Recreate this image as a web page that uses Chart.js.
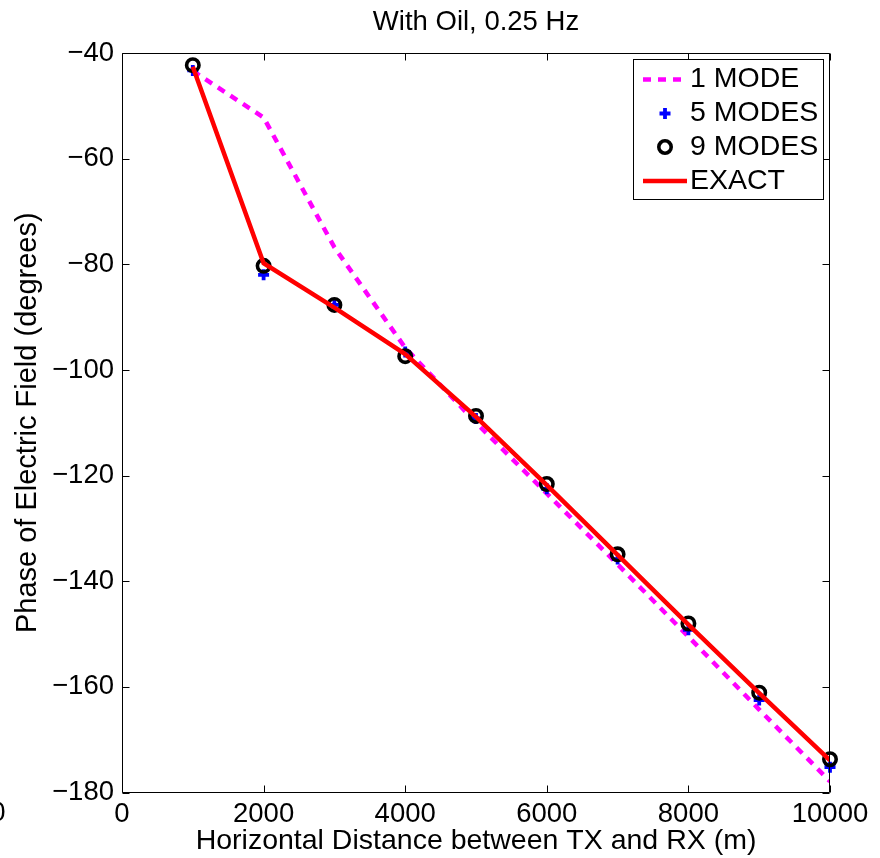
<!DOCTYPE html>
<html><head><meta charset="utf-8">
<script src="https://cdn.jsdelivr.net/npm/chart.js@4"></script>
<style>html,body{margin:0;padding:0;background:#fff}</style>
</head><body>
<canvas id="c" width="880" height="858" style="width:880px;height:858px;display:block"></canvas>
<script>
const distances = [1000, 2000, 3000, 4000, 5000, 6000, 7000, 8000, 9000, 10000];
const oneMode   = [-43.4, -52.2, -76.8, -95.8, -110.0, -123.4, -136.8, -150.5, -164.3, -177.9];
const fiveModes = [-43.3, -82.0, -87.7, -96.6, -109.2, -122.5, -135.8, -149.2, -162.5, -175.2];
const nineModes = [-42.3, -80.3, -87.7, -97.4, -108.7, -121.6, -134.9, -148.0, -161.1, -173.7];
const exact     = [-42.6, -79.8, -88.2, -97.0, -108.9, -121.8, -135.0, -148.2, -161.2, -173.9];
const xTicks = [0, 2000, 4000, 6000, 8000, 10000];
const yTicks = [-180, -160, -140, -120, -100, -80, -60, -40];
const seriesLabels = ['1 MODE', '5 MODES', '9 MODES', 'EXACT'];
const titleText = 'With Oil, 0.25 Hz';
const xLabel = 'Horizontal Distance between TX and RX (m)';
const yLabel = 'Phase of Electric Field (degrees)';

const FONT = '"Liberation Sans", Arial, Helvetica, sans-serif';
Chart.defaults.font.family = FONT;
Chart.defaults.color = '#000';

const pts = arr => distances.map((d, i) => ({x: d, y: arr[i]}));
const fmt = v => String(v).replace('-', '\u2212');

const boxPlugin = {
  id: 'boxTicks',
  afterDraw(chart) {
    const {ctx, chartArea: a} = chart;
    const xs = chart.scales.x, ys = chart.scales.y;
    ctx.save();
    ctx.strokeStyle = '#000';
    ctx.lineWidth = 1;
    ctx.setLineDash([]);
    ctx.beginPath();
    const L = Math.round(a.left) + 0.5, R = Math.round(a.right) - 0.5;
    const T = Math.round(a.top) + 0.5, B = Math.round(a.bottom) - 0.5;
    ctx.rect(L, T, R - L, B - T);
    const tl = 7;
    xTicks.forEach(v => {
      const px = Math.round(xs.getPixelForValue(v)) + 0.5;
      ctx.moveTo(px, B); ctx.lineTo(px, B - tl);
      ctx.moveTo(px, T); ctx.lineTo(px, T + tl);
    });
    yTicks.forEach(v => {
      const py = Math.round(ys.getPixelForValue(v)) + 0.5;
      ctx.moveTo(L, py); ctx.lineTo(L + tl, py);
      ctx.moveTo(R, py); ctx.lineTo(R - tl, py);
    });
    ctx.stroke();

    // stray tick label at far left
    ctx.fillStyle = '#000';
    ctx.font = '27px ' + FONT;
    ctx.textAlign = 'center';
    ctx.textBaseline = 'middle';
    ctx.fillText('0', -2, 814);

    // legend
    const lx = 633.5, ly = 59.5, lw = 190, lh = 140;
    ctx.fillStyle = '#fff';
    ctx.fillRect(lx, ly, lw, lh);
    ctx.strokeStyle = '#000';
    ctx.lineWidth = 1;
    ctx.strokeRect(lx, ly, lw, lh);
    const rows = [79.5, 113.5, 147, 181];
    const ds = chart.data.datasets;
    ctx.font = '28.5px ' + FONT;
    ctx.textAlign = 'left';
    ctx.textBaseline = 'middle';
    ds.forEach((d, i) => {
      const y = rows[i];
      ctx.save();
      if (d.showLine !== false) {
        ctx.strokeStyle = d.borderColor;
        ctx.lineWidth = d.borderWidth;
        ctx.setLineDash(d.borderDash || []);
        ctx.beginPath();
        ctx.moveTo(643, y); ctx.lineTo(687, y);
        ctx.stroke();
      } else {
        ctx.strokeStyle = d.pointBorderColor;
        ctx.lineWidth = d.pointBorderWidth;
        ctx.setLineDash([]);
        ctx.beginPath();
        if (d.pointStyle === 'circle') {
          ctx.arc(665, y, d.pointRadius, 0, Math.PI * 2);
        } else {
          ctx.moveTo(665 - d.pointRadius, y); ctx.lineTo(665 + d.pointRadius, y);
          ctx.moveTo(665, y - d.pointRadius); ctx.lineTo(665, y + d.pointRadius);
        }
        ctx.stroke();
      }
      ctx.restore();
      ctx.fillStyle = '#000';
      ctx.fillText(d.label, 690, y);
    });
    ctx.restore();
  }
};

new Chart(document.getElementById('c'), {
  type: 'scatter',
  data: {
    datasets: [
      { label: seriesLabels[0], data: pts(oneMode), showLine: true, borderColor: '#ff00ff',
        borderWidth: 4.5, borderDash: [8, 7], pointRadius: 0, order: 4, tension: 0 },
      { label: seriesLabels[1], data: pts(fiveModes), showLine: false, pointStyle: 'cross',
        pointRadius: 5.5, pointBorderWidth: 3.8, pointBorderColor: '#0000ff', pointBackgroundColor: '#0000ff',
        borderColor: '#0000ff', order: 3, clip: false },
      { label: seriesLabels[2], data: pts(nineModes), showLine: false, pointStyle: 'circle',
        pointRadius: 6.2, pointBorderWidth: 3.6, pointBorderColor: '#000', pointBackgroundColor: 'rgba(0,0,0,0)',
        borderColor: '#000', order: 2, clip: false },
      { label: seriesLabels[3], data: pts(exact), showLine: true, borderColor: '#ff0000',
        borderWidth: 4.5, pointRadius: 0, order: 1, tension: 0 }
    ]
  },
  options: {
    responsive: false,
    animation: false,
    devicePixelRatio: 1,
    layout: { padding: { left: 0, right: 50, top: 0, bottom: 0 } },
    plugins: {
      legend: { display: false },
      tooltip: { enabled: false },
      title: {
        display: true, text: titleText, fullSize: false, color: '#000',
        font: { size: 27.5, weight: 'normal', family: FONT },
        padding: { top: 5.5, bottom: 14.5 }
      }
    },
    scales: {
      x: {
        type: 'linear', min: 0, max: 10000,
        afterBuildTicks: s => { s.ticks = xTicks.map(v => ({value: v})); },
        afterFit: s => { s.height = 65.5; },
        grid: { display: false, drawTicks: false },
        border: { display: false },
        ticks: { color: '#000', font: { size: 27.5 }, padding: 5, maxRotation: 0, autoSkip: false,
                 callback: v => fmt(v) },
        title: { display: true, text: xLabel, color: '#000', font: { size: 28.5 }, padding: { top: 0, bottom: 0 } }
      },
      y: {
        type: 'linear', min: -180, max: -40,
        afterBuildTicks: s => { s.ticks = yTicks.map(v => ({value: v})); },
        afterFit: s => { s.width = 122; },
        grid: { display: false, drawTicks: false },
        border: { display: false },
        ticks: { color: '#000', font: { size: 27.5 }, padding: 8, autoSkip: false,
                 callback: v => fmt(v) },
        title: { display: true, text: yLabel, color: '#000', font: { size: 29 }, padding: { top: 10.5, bottom: 0 } }
      }
    }
  },
  plugins: [boxPlugin]
});
</script>
</body></html>
